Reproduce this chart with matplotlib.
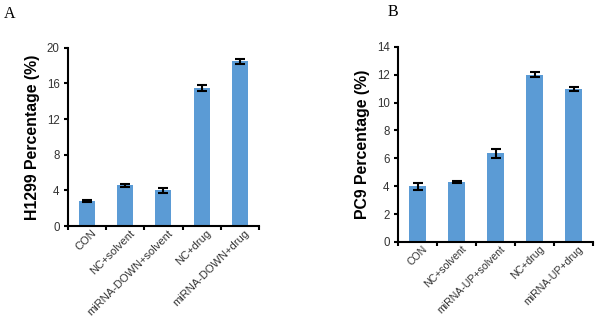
import numpy as np
import matplotlib.pyplot as plt

plt.rcParams['font.family'] = ['Liberation Sans', 'DejaVu Sans']

# Panel A data (H1299)
cats_a = ['CON', 'NC+solvent', 'miRNA-DOWN+solvent', 'NC+drug', 'miRNA-DOWN+drug']
vals_a = [2.8, 4.55, 4.0, 15.5, 18.5]
errs_a = [0.12, 0.18, 0.3, 0.35, 0.28]

# Panel B data (PC9)
cats_b = ['CON', 'NC+solvent', 'miRNA-UP+solvent', 'NC+drug', 'miRNA-UP+drug']
vals_b = [4.0, 4.3, 6.35, 12.0, 11.0]
errs_b = [0.25, 0.05, 0.35, 0.18, 0.15]

bar_color = '#5B9BD5'


def draw_panel(ax, cats, vals, errs, ylabel, ymax, ystep, xfont):
    x = np.arange(len(cats))
    ax.bar(x, vals, width=0.42, color=bar_color, zorder=2)
    ax.errorbar(x, vals, yerr=errs, fmt='none', ecolor='black',
                elinewidth=1.5, capsize=3.5, capthick=1.5, zorder=3)
    ax.set_xlim(-0.5, len(cats) - 0.5)
    ax.set_ylim(0, ymax)
    ax.set_yticks(np.arange(0, ymax + 0.01, ystep))
    ax.set_xticks(x + 0.12)
    ax.set_xticklabels(cats, rotation=45, ha='right', rotation_mode='anchor',
                       fontsize=xfont, color='#333333')
    ax.set_xticks(np.arange(-0.5, len(cats), 1.0), minor=True)
    ax.tick_params(axis='x', which='major', length=0, pad=1.5)
    ax.tick_params(axis='x', which='minor', length=3, width=1.5, direction='out')
    ax.tick_params(axis='y', length=3, width=1.5, direction='out', pad=3,
                   labelsize=8.3, labelcolor='#333333')
    for s in ['top', 'right']:
        ax.spines[s].set_visible(False)
    for s in ['left', 'bottom']:
        ax.spines[s].set_linewidth(1.5)
    ax.set_ylabel(ylabel, fontsize=11.4, fontweight='bold', labelpad=5)


fig = plt.figure(figsize=(6.04, 3.17), dpi=100)

ax_a = fig.add_axes([0.1126, 0.287, 0.316, 0.562])
draw_panel(ax_a, cats_a, vals_a, errs_a, 'H1299 Percentage (%)', 20, 4, 8)

ax_b = fig.add_axes([0.659, 0.237, 0.323, 0.615])
draw_panel(ax_b, cats_b, vals_b, errs_b, 'PC9 Percentage (%)', 14, 2, 7.6)

fig.text(0.007, 0.982, 'A', fontsize=11.5, family='Liberation Serif', va='top')
fig.text(0.641, 0.988, 'B', fontsize=11.5, family='Liberation Serif', va='top')

fig.savefig('out.png', dpi=100)
